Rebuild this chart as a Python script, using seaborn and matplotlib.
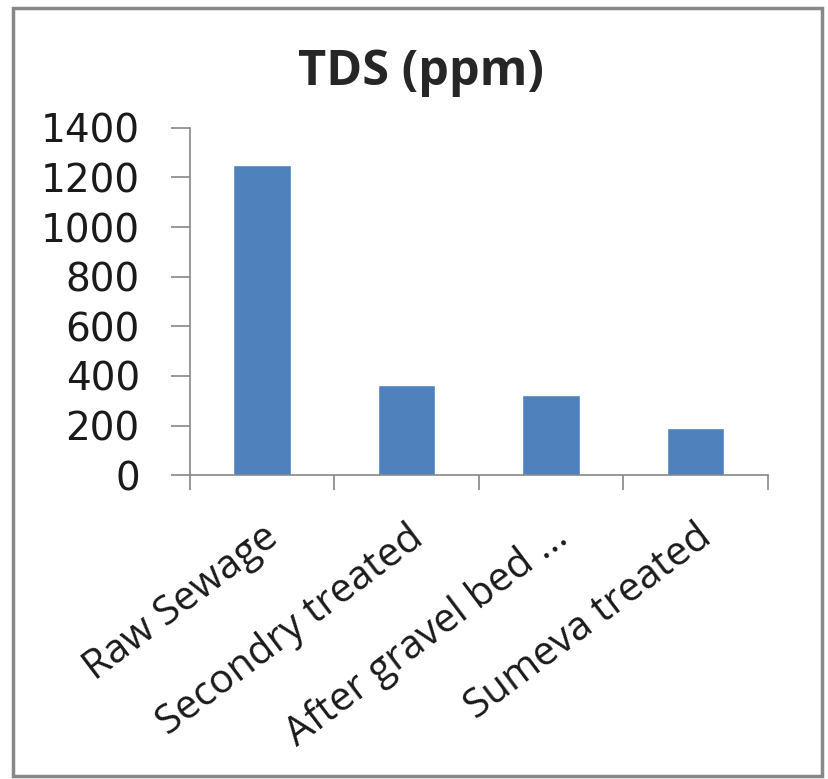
import matplotlib
matplotlib.use("Agg")
import matplotlib.pyplot as plt
import seaborn as sns
import pandas as pd
from matplotlib.patches import Rectangle

categories = ["Raw Sewage", "Secondry treated", "After gravel bed ...", "Sumeva treated"]
tds_values = [1250, 365, 325, 190]
y_ticks = [0, 200, 400, 600, 800, 1000, 1200, 1400]

sns.set_style("white")
plt.rcParams['font.family'] = ['DejaVu Sans']

df = pd.DataFrame({"stage": categories, "tds": tds_values})

fig = plt.figure(figsize=(8.29, 7.79), dpi=100)
ax = fig.add_axes([0.229, 0.390, 0.697, 0.446])

sns.barplot(data=df, x="stage", y="tds", color="#4F81BD", width=0.4,
            saturation=1, ax=ax)

ax.set_ylim(0, 1400)
ax.set_xlim(-0.5, len(categories) - 0.5)
ax.set_yticks(y_ticks)
ax.set_yticklabels([str(v) for v in y_ticks])
ax.tick_params(axis='y', direction='out', length=14, width=1.2, color='#868686',
               labelsize=28, pad=22, left=True, labelcolor='#1a1a1a')

# category boundary ticks (major) and labels at centres (minor)
ax.set_xticks([i - 0.5 for i in range(len(categories) + 1)])
ax.set_xticklabels([])
ax.set_xticks(range(len(categories)), minor=True)
ax.set_xticklabels(categories, minor=True, rotation=37, ha='right',
                   rotation_mode='anchor', fontsize=29, family='Open Sans')
ax.tick_params(axis='x', which='major', direction='out', length=11, width=1.2,
               color='#868686', bottom=True)
ax.tick_params(axis='x', which='minor', length=0, pad=30, labelcolor='#1a1a1a')

ax.set_xlabel("")
ax.set_ylabel("")
for side in ['top', 'right']:
    ax.spines[side].set_visible(False)
for side in ['left', 'bottom']:
    ax.spines[side].set_color('#868686')
    ax.spines[side].set_linewidth(1.2)

fig.text(0.508, 0.891, "TDS (ppm)", ha='center', va='baseline', fontsize=35,
         fontweight='bold', family='Open Sans')

# outer chart border
fig.patches.append(Rectangle((0.016, 0.004), 0.976, 0.986, transform=fig.transFigure,
                             fill=False, edgecolor='#888888', linewidth=2.5))

fig.savefig("out.png", dpi=100)
